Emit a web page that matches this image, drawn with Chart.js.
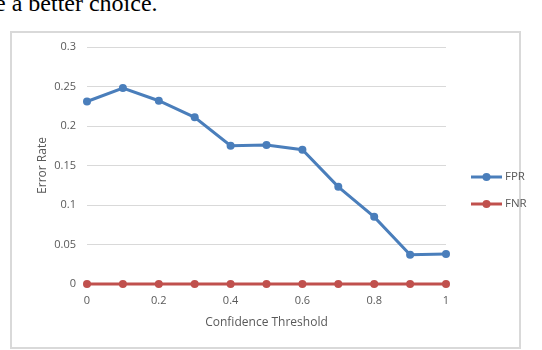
<!DOCTYPE html>
<html>
<head>
<meta charset="utf-8">
<script src="https://cdn.jsdelivr.net/npm/chart.js@4.4.1/dist/chart.umd.min.js"></script>
<style>
  html, body { margin: 0; padding: 0; background: #fff; }
  body { width: 542px; height: 350px; position: relative; overflow: hidden; }
  #caption { position: absolute; left: -5px; top: -10px; font: 24px "Liberation Serif", serif; color: #000; white-space: nowrap; }
  #frame { position: absolute; left: 10px; top: 31px; width: 507px; height: 314px; border: 2px solid #d9d9d9; }
  #wrap { position: absolute; left: 0; top: 0; width: 542px; height: 350px; }
</style>
</head>
<body>
<div id="caption">e a better choice.</div>
<div id="frame"></div>
<div id="wrap"><canvas id="c" width="542" height="350"></canvas></div>
<script>
// data
let thresholds = [0, 0.1, 0.2, 0.3, 0.4, 0.5, 0.6, 0.7, 0.8, 0.9, 1];
let fpr = [0.231, 0.248, 0.232, 0.211, 0.175, 0.176, 0.170, 0.123, 0.085, 0.037, 0.038];
let fnr = [0, 0, 0, 0, 0, 0, 0, 0, 0, 0, 0];
let seriesNames = ["FPR", "FNR"];

let blue = "#4a7ebb";
let red = "#c0504d";
let tickColor = "#595959";
let gridColor = "#d9d9d9";

function toPoints(xs, ys) {
	return xs.map((x, i) => ({ x: x, y: ys[i] }));
}

// excel style numbers: 0.3 not 0.30, 1 not 1.0
function plainNumber(v) {
	return String(Math.round(v * 100) / 100);
}

// legend drawn at the right, line + marker like the original
let sideLegend = {
	id: "sideLegend",
	afterDraw(chart) {
		let ctx = chart.ctx;
		let x0 = 471, x1 = 502;
		let ys = [177, 204];
		chart.data.datasets.forEach((ds, i) => {
			let y = ys[i];
			ctx.save();
			ctx.strokeStyle = ds.borderColor;
			ctx.lineWidth = 3;
			ctx.beginPath();
			ctx.moveTo(x0, y);
			ctx.lineTo(x1, y);
			ctx.stroke();
			ctx.fillStyle = ds.borderColor;
			ctx.beginPath();
			ctx.arc((x0 + x1) / 2, y, 4, 0, Math.PI * 2);
			ctx.fill();
			ctx.fillStyle = tickColor;
			ctx.font = "11.5px 'Open Sans'";
			ctx.textBaseline = "middle";
			ctx.fillText(ds.label, x1 + 3, y);
			ctx.restore();
		});
	}
};

new Chart(document.getElementById("c"), {
	type: "line",
	data: {
		datasets: [
			{
				label: seriesNames[0],
				data: toPoints(thresholds, fpr),
				borderColor: blue,
				backgroundColor: blue,
				borderWidth: 3,
				pointRadius: 4,
				pointBorderWidth: 0,
				tension: 0,
				clip: false
			},
			{
				label: seriesNames[1],
				data: toPoints(thresholds, fnr),
				borderColor: red,
				backgroundColor: red,
				borderWidth: 3,
				pointRadius: 4,
				pointBorderWidth: 0,
				tension: 0,
				clip: false
			}
		]
	},
	options: {
		responsive: false,
		animation: false,
		events: [],
		layout: { padding: { left: 35, right: 96, top: 47, bottom: 16 } },
		plugins: { legend: { display: false }, tooltip: { enabled: false } },
		scales: {
			x: {
				type: "linear",
				min: 0,
				max: 1,
				afterFit: (s) => { s.height = 50; },
				grid: { display: false, drawTicks: false },
				border: { display: true, color: gridColor },
				ticks: { stepSize: 0.2, padding: 10, color: tickColor, font: { family: "Open Sans", size: 11 }, callback: plainNumber },
				title: { display: true, text: "Confidence Threshold", color: tickColor, font: { family: "Open Sans", size: 12 }, padding: { top: 0, bottom: 4 } }
			},
			y: {
				min: 0,
				max: 0.3,
				afterFit: (s) => { s.width = 52; },
				grid: { color: gridColor, lineWidth: 1, drawTicks: false },
				border: { display: false },
				ticks: { stepSize: 0.05, padding: 11, color: tickColor, font: { family: "Open Sans", size: 11 }, callback: plainNumber },
				title: { display: true, text: "Error Rate", color: tickColor, font: { family: "Open Sans", size: 12 }, padding: { top: 0, bottom: 0 } }
			}
		}
	},
	plugins: [sideLegend]
});
</script>
</body>
</html>
